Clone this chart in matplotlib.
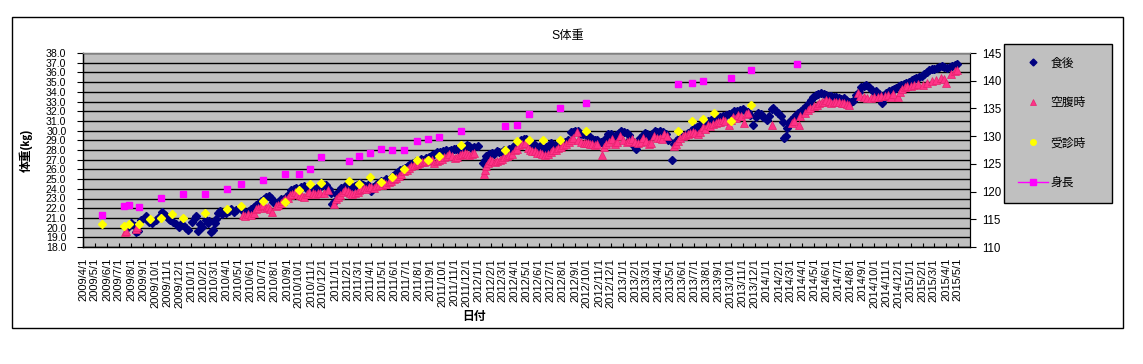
import matplotlib
matplotlib.use("Agg")
import matplotlib.pyplot as plt
from matplotlib.lines import Line2D
from matplotlib.patches import Rectangle
import pandas as pd

plt.rcParams['font.family'] = ['Liberation Sans', 'Noto Sans CJK JP', 'DejaVu Sans']

# ---------------- data ----------------
title = "S体重"
xlabel = "日付"
ylabel_left = "体重(㎏)"
series_names = ["食後", "空腹時", "受診時", "身長"]

tick_start = "2009-04-01"
tick_end = "2015-05-01"
x_min = "2009-04-01"
x_max = "2015-06-01"
left_ticks = [18 + i for i in range(21)]
right_ticks = [110, 115, 120, 125, 130, 135, 140, 145]

# 食後 (after meal)
shokugo_dates = [
    "2009-07-22", "2009-08-02", "2009-08-10", "2009-08-14", "2009-08-18", "2009-08-27", "2009-09-05", "2009-09-09",
    "2009-09-15", "2009-09-22", "2009-10-04", "2009-10-12", "2009-10-19", "2009-10-25", "2009-10-29", "2009-11-05",
    "2009-11-09", "2009-11-16", "2009-11-24", "2009-12-01", "2009-12-05", "2009-12-11", "2009-12-18", "2009-12-24",
    "2010-01-04", "2010-01-10", "2010-01-14", "2010-01-18", "2010-01-24", "2010-01-27", "2010-02-07", "2010-02-12",
    "2010-02-16", "2010-02-21", "2010-02-24", "2010-03-01", "2010-03-05", "2010-03-09", "2010-03-14", "2010-03-20",
    "2010-03-29", "2010-04-06", "2010-04-12", "2010-04-20", "2010-04-25", "2010-05-07", "2010-05-12", "2010-05-19",
    "2010-05-27", "2010-06-02", "2010-06-10", "2010-06-15", "2010-06-23", "2010-06-27", "2010-07-05", "2010-07-10",
    "2010-07-16", "2010-07-22", "2010-07-28", "2010-08-04", "2010-08-12", "2010-08-17", "2010-08-24", "2010-08-29",
    "2010-09-06", "2010-09-12", "2010-09-19", "2010-09-25", "2010-10-03", "2010-10-07", "2010-10-14", "2010-10-20",
    "2010-10-27", "2010-11-02", "2010-11-09", "2010-11-15", "2010-11-21", "2010-11-27", "2010-12-04", "2010-12-10",
    "2010-12-16", "2010-12-21", "2010-12-25", "2010-12-28", "2011-01-04", "2011-01-10", "2011-01-17", "2011-01-23",
    "2011-01-29", "2011-02-06", "2011-02-12", "2011-02-20", "2011-02-26", "2011-03-06", "2011-03-12", "2011-03-19",
    "2011-03-26", "2011-04-02", "2011-04-08", "2011-04-14", "2011-04-21", "2011-04-27", "2011-05-05", "2011-05-10",
    "2011-05-16", "2011-05-22", "2011-05-29", "2011-06-04", "2011-06-10", "2011-06-16", "2011-06-22", "2011-06-28",
    "2011-07-04", "2011-07-11", "2011-07-18", "2011-07-25", "2011-07-30", "2011-08-07", "2011-08-13", "2011-08-20",
    "2011-08-27", "2011-09-03", "2011-09-10", "2011-09-16", "2011-09-24", "2011-10-01", "2011-10-09", "2011-10-16",
    "2011-10-23", "2011-10-30", "2011-11-05", "2011-11-11", "2011-11-17", "2011-11-24", "2011-12-01", "2011-12-06",
    "2011-12-12", "2011-12-20", "2011-12-29", "2012-01-11", "2012-01-16", "2012-01-20", "2012-01-26", "2012-02-03",
    "2012-02-09", "2012-02-15", "2012-02-22", "2012-02-28", "2012-03-06", "2012-03-12", "2012-03-18", "2012-03-24",
    "2012-03-30", "2012-04-05", "2012-04-10", "2012-04-17", "2012-04-24", "2012-04-30", "2012-05-07", "2012-05-14",
    "2012-05-21", "2012-05-29", "2012-06-05", "2012-06-12", "2012-06-19", "2012-06-26", "2012-07-03", "2012-07-12",
    "2012-07-20", "2012-07-27", "2012-08-06", "2012-08-14", "2012-08-21", "2012-08-26", "2012-09-01", "2012-09-09",
    "2012-09-16", "2012-09-22", "2012-10-01", "2012-10-08", "2012-10-15", "2012-10-21", "2012-10-28", "2012-11-05",
    "2012-11-10", "2012-11-18", "2012-11-24", "2012-12-02", "2012-12-08", "2012-12-15", "2012-12-22", "2012-12-27",
    "2013-01-04", "2013-01-10", "2013-01-16", "2013-01-20", "2013-01-24", "2013-02-02", "2013-02-07", "2013-02-14",
    "2013-02-20", "2013-02-27", "2013-03-04", "2013-03-09", "2013-03-16", "2013-03-22", "2013-03-29", "2013-04-05",
    "2013-04-12", "2013-04-20", "2013-04-25", "2013-05-06", "2013-05-10", "2013-05-16", "2013-05-24", "2013-06-01",
    "2013-06-08", "2013-06-15", "2013-06-22", "2013-07-01", "2013-07-08", "2013-07-15", "2013-07-22", "2013-07-29",
    "2013-08-04", "2013-08-13", "2013-08-21", "2013-08-28", "2013-09-05", "2013-09-12", "2013-09-20", "2013-09-27",
    "2013-10-04", "2013-10-11", "2013-10-18", "2013-10-25", "2013-11-02", "2013-11-08", "2013-11-14", "2013-11-20",
    "2013-11-27", "2013-12-04", "2013-12-10", "2013-12-17", "2013-12-23", "2014-01-01", "2014-01-06", "2014-01-14",
    "2014-01-18", "2014-01-24", "2014-01-30", "2014-02-05", "2014-02-10", "2014-02-15", "2014-02-18", "2014-02-22",
    "2014-02-27", "2014-03-04", "2014-03-10", "2014-03-16", "2014-03-22", "2014-03-28", "2014-04-04", "2014-04-10",
    "2014-04-17", "2014-04-23", "2014-04-29", "2014-05-06", "2014-05-12", "2014-05-19", "2014-05-26", "2014-06-01",
    "2014-06-08", "2014-06-14", "2014-06-20", "2014-06-27", "2014-07-04", "2014-07-09", "2014-07-15", "2014-07-21",
    "2014-07-28", "2014-08-03", "2014-08-08", "2014-08-16", "2014-08-22", "2014-08-29", "2014-09-05", "2014-09-11",
    "2014-09-18", "2014-09-24", "2014-10-01", "2014-10-06", "2014-10-13", "2014-10-20", "2014-10-26", "2014-11-01",
    "2014-11-08", "2014-11-14", "2014-11-20", "2014-11-26", "2014-12-03", "2014-12-09", "2014-12-15", "2014-12-21",
    "2014-12-28", "2015-01-04", "2015-01-10", "2015-01-16", "2015-01-22", "2015-01-29", "2015-02-04", "2015-02-11",
    "2015-02-18", "2015-02-24", "2015-03-02", "2015-03-08", "2015-03-15", "2015-03-22", "2015-03-28", "2015-04-03",
    "2015-04-10", "2015-04-17", "2015-04-24", "2015-04-29",
]
shokugo_kg = [
    20.0, 20.5, 20.2, 19.5, 19.7, 20.8, 21.0, 21.2,
    20.6, 20.5, 20.8, 21.1, 21.6, 21.3, 21.2, 20.9,
    20.8, 20.6, 20.4, 20.1, 20.4, 20.3, 20.0, 19.8,
    20.6, 21.0, 21.2, 19.6, 20.4, 20.1, 20.8, 20.5,
    20.7, 19.5, 19.8, 20.5, 20.9, 21.5, 21.7, 21.4,
    21.5, 21.7, 21.9, 21.6, 21.8, 22.0, 21.7, 21.5,
    21.7, 21.9, 22.1, 22.3, 22.5, 22.7, 23.0, 23.2,
    23.3, 23.1, 22.6, 22.5, 22.6, 22.9, 23.0, 23.2,
    23.5, 23.9, 24.0, 24.1, 24.0, 24.2, 24.3, 24.1,
    24.3, 24.2, 24.0, 24.1, 24.3, 24.3, 24.4, 24.4,
    24.0, 23.6, 22.4, 22.6, 23.5, 23.7, 24.1, 24.0,
    24.4, 24.3, 24.2, 24.3, 24.4, 24.6, 24.4, 24.3,
    24.4, 23.8, 24.2, 24.4, 24.6, 24.8, 24.8, 25.0,
    24.9, 25.1, 25.3, 25.6, 25.7, 25.9, 26.0, 26.1,
    26.3, 26.6, 26.7, 26.9, 26.9, 27.1, 27.0, 27.2,
    27.3, 27.5, 27.6, 27.8, 27.8, 27.9, 28.0, 27.9,
    28.0, 28.1, 28.1, 28.0, 28.2, 28.3, 28.5, 28.4,
    28.2, 28.3, 28.4, 26.7, 27.0, 27.4, 27.6, 27.7,
    27.6, 27.9, 27.8, 27.8, 28.0, 27.9, 28.1, 28.2,
    28.4, 28.6, 28.7, 29.0, 29.1, 29.1, 28.9, 28.5,
    28.6, 28.2, 28.4, 27.9, 28.3, 28.0, 28.7, 28.5,
    28.4, 28.6, 28.8, 29.0, 29.9, 29.9, 30.0, 30.0,
    29.7, 29.6, 29.4, 29.3, 29.1, 29.0, 29.0, 28.8,
    28.7, 29.2, 29.7, 29.6, 29.3, 29.5, 29.8, 30.0,
    29.9, 29.8, 29.5, 29.1, 28.6, 28.1, 28.6, 29.2,
    29.5, 29.8, 29.6, 29.4, 29.6, 30.0, 29.9, 30.0,
    29.9, 29.6, 29.0, 27.0, 28.6, 28.9, 29.2, 29.3,
    29.5, 29.8, 30.0, 30.3, 30.4, 30.6, 30.7, 30.8,
    31.0, 31.1, 31.2, 31.3, 31.4, 31.5, 31.6, 31.7,
    31.8, 32.0, 32.0, 32.1, 32.2, 32.0, 31.9, 31.6,
    30.6, 31.4, 31.8, 31.7, 31.4, 31.1, 31.5, 32.2,
    32.3, 32.0, 31.8, 31.5, 30.9, 29.2, 29.4, 30.3,
    30.8, 31.1, 31.4, 31.6, 31.8, 32.0, 32.2, 32.5,
    32.8, 33.2, 33.5, 33.7, 33.8, 33.9, 33.8, 33.7,
    33.6, 33.6, 33.5, 33.5, 33.4, 33.3, 33.4, 33.2,
    33.0, 32.9, 33.1, 33.7, 34.0, 34.5, 34.6, 34.7,
    34.5, 34.2, 34.0, 34.1, 33.8, 32.8, 33.4, 33.9,
    34.1, 34.2, 34.3, 34.4, 34.6, 34.7, 34.8, 34.9,
    35.0, 35.2, 35.3, 35.4, 35.5, 35.6, 35.8, 36.0,
    36.2, 36.3, 36.4, 36.5, 36.6, 36.7, 36.6, 36.5,
    36.6, 36.7, 36.8, 36.9,
]

# 空腹時 (fasting)
kuufuku_dates = [
    "2009-07-16", "2009-07-20", "2009-08-14", "2009-08-17", "2010-05-11", "2010-05-18", "2010-05-24", "2010-06-01",
    "2010-06-08", "2010-06-14", "2010-06-20", "2010-06-27", "2010-07-03", "2010-07-09", "2010-07-14", "2010-07-20",
    "2010-07-26", "2010-08-04", "2010-08-10", "2010-08-16", "2010-08-22", "2010-08-27", "2010-09-04", "2010-09-08",
    "2010-09-14", "2010-09-20", "2010-09-26", "2010-10-03", "2010-10-09", "2010-10-15", "2010-10-22", "2010-10-28",
    "2010-11-05", "2010-11-11", "2010-11-18", "2010-11-23", "2010-12-05", "2010-12-14", "2010-12-28", "2011-01-04",
    "2011-01-08", "2011-01-13", "2011-01-20", "2011-01-25", "2011-02-03", "2011-02-08", "2011-02-14", "2011-02-20",
    "2011-02-27", "2011-03-03", "2011-03-09", "2011-03-15", "2011-03-21", "2011-03-27", "2011-04-03", "2011-04-10",
    "2011-04-16", "2011-04-22", "2011-04-29", "2011-05-05", "2011-05-11", "2011-05-17", "2011-05-23", "2011-05-30",
    "2011-06-04", "2011-06-12", "2011-06-18", "2011-06-25", "2011-07-02", "2011-07-08", "2011-07-14", "2011-07-20",
    "2011-07-27", "2011-08-03", "2011-08-09", "2011-08-15", "2011-08-21", "2011-08-28", "2011-09-04", "2011-09-10",
    "2011-09-16", "2011-09-23", "2011-09-30", "2011-10-05", "2011-10-11", "2011-10-18", "2011-10-25", "2011-11-01",
    "2011-11-07", "2011-11-13", "2011-11-19", "2011-11-26", "2011-12-02", "2011-12-08", "2011-12-14", "2011-12-19",
    "2012-01-15", "2012-01-17", "2012-01-20", "2012-01-24", "2012-01-29", "2012-02-04", "2012-02-10", "2012-02-17",
    "2012-02-23", "2012-03-01", "2012-03-06", "2012-03-12", "2012-03-18", "2012-03-25", "2012-04-01", "2012-04-07",
    "2012-04-13", "2012-04-19", "2012-04-26", "2012-05-04", "2012-05-10", "2012-05-16", "2012-05-22", "2012-05-28",
    "2012-06-04", "2012-06-10", "2012-06-18", "2012-06-25", "2012-07-01", "2012-07-07", "2012-07-14", "2012-07-20",
    "2012-07-28", "2012-08-02", "2012-08-09", "2012-08-16", "2012-08-23", "2012-08-28", "2012-09-05", "2012-09-10",
    "2012-09-17", "2012-09-23", "2012-09-29", "2012-10-04", "2012-10-09", "2012-10-15", "2012-10-22", "2012-10-28",
    "2012-11-08", "2012-11-14", "2012-11-20", "2012-11-26", "2012-12-03", "2012-12-11", "2012-12-17", "2012-12-24",
    "2013-01-02", "2013-01-10", "2013-01-16", "2013-01-23", "2013-02-01", "2013-02-09", "2013-02-16", "2013-02-22",
    "2013-03-01", "2013-03-09", "2013-03-14", "2013-03-21", "2013-03-28", "2013-04-04", "2013-04-10", "2013-04-16",
    "2013-04-23", "2013-05-10", "2013-05-15", "2013-05-20", "2013-05-26", "2013-06-02", "2013-06-08", "2013-06-14",
    "2013-06-20", "2013-06-27", "2013-07-03", "2013-07-10", "2013-07-16", "2013-07-22", "2013-07-28", "2013-08-05",
    "2013-08-11", "2013-08-17", "2013-08-24", "2013-08-30", "2013-09-05", "2013-09-12", "2013-09-18", "2013-09-27",
    "2013-10-03", "2013-10-08", "2013-10-15", "2013-10-21", "2013-10-27", "2013-11-03", "2013-11-09", "2013-11-15",
    "2014-01-14", "2014-03-06", "2014-03-12", "2014-03-25", "2014-03-26", "2014-04-08", "2014-04-15", "2014-04-22",
    "2014-05-02", "2014-05-08", "2014-05-14", "2014-05-20", "2014-05-27", "2014-06-01", "2014-06-07", "2014-06-13",
    "2014-06-20", "2014-06-26", "2014-07-03", "2014-07-10", "2014-07-17", "2014-07-23", "2014-07-30", "2014-08-20",
    "2014-08-26", "2014-09-06", "2014-09-13", "2014-09-23", "2014-10-01", "2014-10-10", "2014-10-18", "2014-10-27",
    "2014-11-05", "2014-11-12", "2014-11-17", "2014-11-29", "2014-12-05", "2014-12-10", "2014-12-17", "2014-12-24",
    "2015-01-03", "2015-01-11", "2015-01-20", "2015-02-01", "2015-02-11", "2015-02-24", "2015-03-06", "2015-03-19",
    "2015-03-27", "2015-04-02", "2015-04-14", "2015-04-24", "2015-04-29",
]
kuufuku_kg = [
    19.5, 19.7, 19.9, 20.1, 21.3, 21.2, 21.4, 21.3,
    21.5, 21.9, 22.0, 22.2, 22.3, 22.0, 22.1, 21.9,
    21.6, 22.2, 22.3, 22.5, 22.7, 22.9, 23.1, 23.4,
    23.5, 23.7, 23.5, 23.4, 23.3, 23.2, 23.5, 23.7,
    23.6, 23.5, 23.6, 23.6, 23.6, 23.9, 22.4, 22.9,
    23.2, 23.4, 23.7, 23.9, 23.8, 23.6, 23.5, 23.6,
    23.7, 23.9, 24.0, 24.1, 24.0, 24.2, 24.2, 24.1,
    24.3, 24.4, 24.4, 24.6, 24.5, 24.7, 24.8, 25.0,
    25.1, 25.3, 25.5, 25.8, 25.9, 26.1, 26.3, 26.5,
    26.6, 26.7, 26.8, 26.8, 26.9, 27.0, 27.0, 26.7,
    26.9, 27.0, 27.1, 27.3, 27.4, 27.6, 27.4, 27.2,
    27.3, 27.5, 27.6, 27.7, 27.6, 27.5, 27.6, 27.7,
    25.5, 25.9, 26.3, 26.7, 27.0, 26.9, 26.8, 26.9,
    27.0, 27.1, 27.3, 27.4, 27.5, 27.6, 28.0, 28.1,
    28.5, 28.6, 28.7, 28.2, 28.0, 27.9, 27.9, 27.7,
    27.7, 27.6, 27.5, 27.6, 27.8, 28.0, 28.0, 28.2,
    28.3, 28.5, 28.6, 28.8, 29.0, 29.2, 29.9, 29.0,
    28.8, 28.7, 28.7, 28.7, 28.6, 28.6, 28.5, 28.6,
    27.5, 28.3, 28.6, 28.8, 29.1, 28.6, 28.8, 29.4,
    29.0, 28.8, 28.9, 29.1, 28.8, 28.7, 28.8, 29.2,
    28.9, 28.6, 28.7, 29.4, 29.2, 29.2, 29.1, 29.6,
    29.4, 28.4, 28.6, 28.9, 29.2, 29.4, 29.5, 29.7,
    29.8, 29.9, 29.8, 29.6, 29.9, 30.4, 30.2, 30.6,
    30.5, 30.7, 30.8, 30.9, 30.9, 31.1, 31.0, 30.6,
    31.1, 31.4, 31.3, 31.6, 31.5, 30.8, 31.7, 31.8,
    30.6, 30.8, 31.0, 30.6, 31.5, 31.8, 32.1, 32.3,
    32.5, 32.6, 32.8, 32.9, 33.0, 33.2, 33.1, 32.8,
    32.9, 33.0, 32.9, 32.8, 32.8, 32.7, 32.6, 33.9,
    33.6, 33.5, 33.4, 33.4, 33.5, 33.5, 33.6, 33.6,
    33.7, 33.5, 33.8, 33.5, 34.0, 34.3, 34.5, 34.6,
    34.6, 34.7, 34.8, 34.7, 34.9, 35.1, 35.2, 35.4,
    35.3, 34.9, 35.8, 36.1, 36.2,
]

# 受診時 (at hospital visit)
jushin_dates = [
    "2009-05-18", "2009-07-14", "2009-07-28", "2009-08-21", "2009-09-18", "2009-10-16", "2009-11-13", "2009-12-10",
    "2010-02-06", "2010-04-01", "2010-05-06", "2010-07-01", "2010-08-26", "2010-10-01", "2010-10-29", "2010-11-26",
    "2011-02-05", "2011-03-03", "2011-03-31", "2011-04-28", "2011-05-26", "2011-06-24", "2011-07-27", "2011-08-25",
    "2011-09-23", "2011-11-17", "2012-03-08", "2012-04-06", "2012-05-08", "2012-06-13", "2012-07-25", "2012-09-28",
    "2013-05-21", "2013-06-26", "2013-07-24", "2013-08-21", "2013-10-02", "2013-11-21",
]
jushin_kg = [
    20.4, 20.2, 20.4, 20.4, 20.9, 21.0, 21.4, 21.0,
    21.5, 21.9, 22.2, 22.7, 22.6, 23.9, 24.5, 24.6,
    24.8, 24.5, 25.2, 24.7, 25.2, 26.0, 27.0, 27.0,
    27.4, 28.5, 28.0, 28.9, 29.0, 29.0, 29.0, 30.0,
    30.0, 31.0, 31.2, 31.8, 31.0, 32.6,
]

# 身長 (height, cm, right axis)
shincho_dates = [
    "2009-05-18", "2009-07-14", "2009-07-28", "2009-08-21", "2009-10-16", "2009-12-10", "2010-02-06", "2010-04-01",
    "2010-05-06", "2010-07-01", "2010-08-26", "2010-10-01", "2010-10-29", "2010-11-26", "2011-02-05", "2011-03-03",
    "2011-03-31", "2011-04-28", "2011-05-26", "2011-06-24", "2011-07-27", "2011-08-25", "2011-09-23", "2011-11-17",
    "2012-03-08", "2012-04-06", "2012-05-08", "2012-07-25", "2012-09-28", "2013-05-21", "2013-06-26", "2013-07-24",
    "2013-10-02", "2013-11-21", "2014-03-19",
]
shincho_cm = [
    115.7, 117.4, 117.5, 117.2, 118.9, 119.5, 119.5, 120.5,
    121.3, 122.0, 123.2, 123.2, 124.0, 126.2, 125.5, 126.5,
    127.0, 127.6, 127.5, 127.5, 129.1, 129.5, 129.8, 130.9,
    131.9, 132.0, 134.0, 135.0, 136.0, 139.4, 139.5, 140.0,
    140.5, 142.0, 143.0,
]

# ---------------- figure ----------------
W, H = 1143, 364
fig = plt.figure(figsize=(W / 100, H / 100), dpi=100)
fig.patch.set_facecolor("white")

L, R, T, B = 83, 970, 53, 247
ax = fig.add_axes([L / W, 1 - B / H, (R - L) / W, (B - T) / H])
ax.set_facecolor("#C0C0C0")

c_blue = "#000080"
c_pink = "#FF3388"
c_yellow = "#FFFF00"
c_mag = "#FF00FF"

d_sh = pd.to_datetime(shokugo_dates)
d_ku = pd.to_datetime(kuufuku_dates)
d_ju = pd.to_datetime(jushin_dates)
d_si = pd.to_datetime(shincho_dates)

ax.plot(d_sh, shokugo_kg, linestyle="none", marker="D", markersize=4.4,
        markerfacecolor=c_blue, markeredgecolor=c_blue, zorder=3)
ax.plot(d_ku, kuufuku_kg, linestyle="none", marker="^", markersize=5.2,
        markerfacecolor=c_pink, markeredgecolor="#E8206E", markeredgewidth=0.5, zorder=4)
ax.plot(d_ju, jushin_kg, linestyle="none", marker="D", markersize=4.2,
        markerfacecolor=c_yellow, markeredgecolor=c_yellow, zorder=5)

ax.set_ylim(18, 38)
ax.set_yticks(left_ticks)
ax.set_yticklabels([f"{v:.1f}" for v in left_ticks], fontsize=7.6)
ax.yaxis.grid(True, color="black", linewidth=1.0)
ax.set_axisbelow(True)
ax.tick_params(axis="y", direction="out", length=4, width=0.8, pad=8)

ax.set_xlim(pd.Timestamp(x_min), pd.Timestamp(x_max))
month_ticks = pd.date_range(tick_start, tick_end, freq="MS")
ax.set_xticks(month_ticks)
ax.set_xticklabels([f"{d.year}/{d.month}/{d.day}" for d in month_ticks],
                   rotation=90, fontsize=8, ha="center", va="top")
ax.tick_params(axis="x", direction="in", length=3, width=0.8, pad=8)

for s in ["left", "bottom"]:
    ax.spines[s].set_color("black")
    ax.spines[s].set_linewidth(1.0)
ax.spines["top"].set_color("#808080")
ax.spines["top"].set_linewidth(1.0)
ax.spines["right"].set_color("black")

ax.set_xlabel(xlabel, fontsize=8.5, fontweight="bold")
ax.xaxis.set_label_coords((474 - L) / (R - L), (B - 311) / (B - T))
ax.set_ylabel(ylabel_left, fontsize=8.5, fontweight="bold")
ax.yaxis.set_label_coords((33 - L) / (R - L), (B - 150) / (B - T))

ax2 = ax.twinx()
ax2.plot(d_si, shincho_cm, linestyle="none", marker="s", markersize=4.8,
         markerfacecolor=c_mag, markeredgecolor=c_mag, zorder=6)
ax2.set_ylim(110, 145)
ax2.set_yticks(right_ticks)
ax2.set_yticklabels([str(v) for v in right_ticks], fontsize=8.3)
ax2.tick_params(axis="y", direction="out", length=4, width=0.8, pad=5)
ax2.spines["right"].set_color("black")
ax2.spines["top"].set_color("#808080")
ax2.set_xlim(pd.Timestamp(x_min), pd.Timestamp(x_max))

fig.text(568 / W, 1 - 36 / H, title, fontsize=8.8, ha="center", va="center")

# legend
handles = [
    Line2D([], [], linestyle="none", marker="D", markersize=3.5, color=c_blue),
    Line2D([], [], linestyle="none", marker="^", markersize=5, markerfacecolor=c_pink,
           markeredgecolor="#E8206E", markeredgewidth=0.5),
    Line2D([], [], linestyle="none", marker="o", markersize=4, color=c_yellow),
    Line2D([], [], linestyle="-", linewidth=1.0, marker="s", markersize=4.5, color=c_mag),
]
lx0, ly0, lx1, ly1 = 1004, 44, 1112, 200
leg = fig.legend(handles, series_names, loc="upper left",
                 bbox_to_anchor=(lx0 / W, 1 - ly0 / H, (lx1 - lx0) / W, 0),
                 mode="expand", fontsize=8.5, frameon=True, fancybox=False,
                 framealpha=1, facecolor="#C0C0C0", edgecolor="black",
                 borderpad=1.15, labelspacing=2.36, handlelength=2.6,
                 handletextpad=0.2, borderaxespad=0)
leg.get_frame().set_linewidth(1.0)

fig.patches.append(Rectangle((12 / W, 1 - 328 / H), (1123 - 12) / W, (328 - 17) / H,
                             transform=fig.transFigure, fill=False,
                             edgecolor="black", linewidth=1.0))

fig.savefig("out.png", dpi=100)
